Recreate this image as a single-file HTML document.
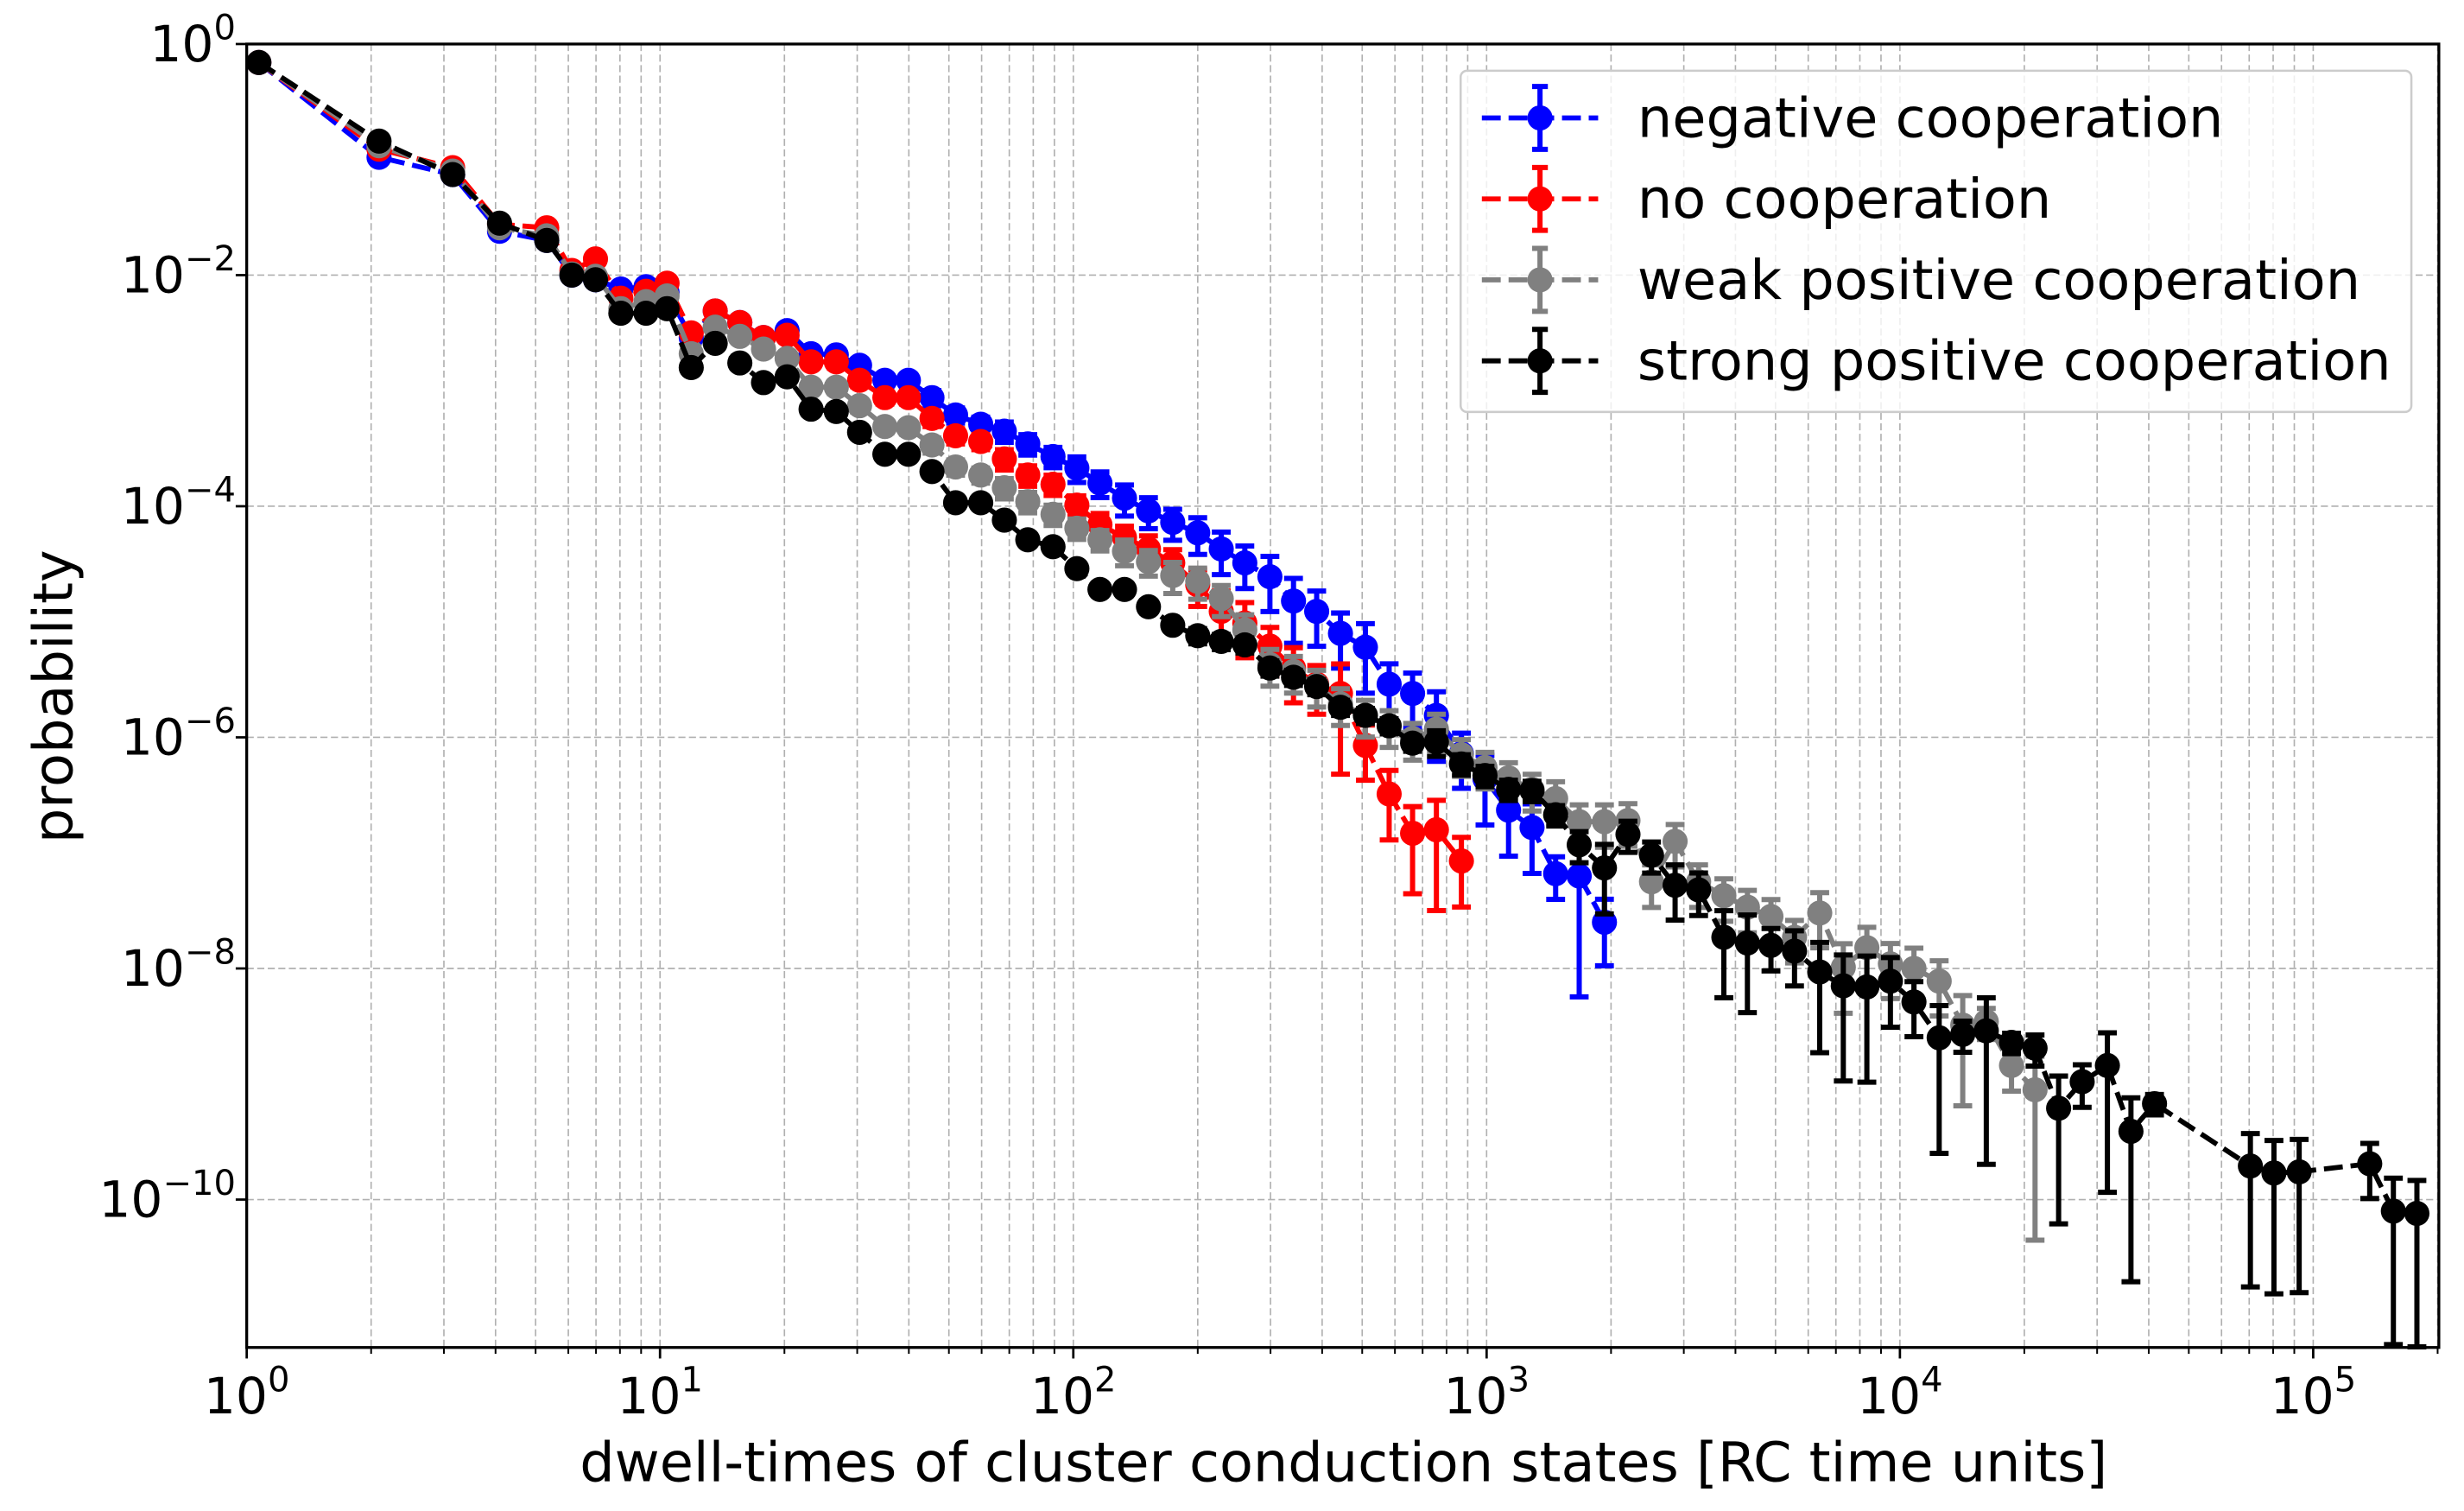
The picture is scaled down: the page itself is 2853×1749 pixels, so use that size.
<!DOCTYPE html>
<html><head><meta charset="utf-8"><style>
html,body{margin:0;padding:0;background:#fff;}
svg{display:block;font-family:"DejaVu Sans","Liberation Sans",sans-serif;}
</style></head><body>
<svg id="chart" width="2853" height="1749" viewBox="0 0 1568 961" preserveAspectRatio="none" xmlns="http://www.w3.org/2000/svg">
<g id="grid"></g>
<g id="series"></g>
<rect x="157" y="28" width="1395" height="829" fill="none" stroke="#000" stroke-width="1.8"/>
<g id="ticks"></g>
<text x="855" y="942" font-size="35" text-anchor="middle">dwell-times of cluster conduction states [RC time units]</text>
<text transform="translate(46,443) rotate(-90)" font-size="35" text-anchor="middle">probability</text>
<g id="legend"></g>
</svg>
<script>
// x bins (dwell times)
const xBins = [1.07,2.09,3.15,4.09,5.32,6.12,6.98,8.04,9.25,10.4,11.9,13.6,15.6,17.8,20.3,23.2,26.7,30.4,35.0,39.9,45.5,51.9,59.7,68.1,77.6,89.3,102,116,133,152,174,200,228,260,299,341,388,443,509,581,662,756,869,991,1130,1288,1469,1675,1928,2198,2506,2858,3258,3750,4276,4875,5559,6397,7295,8318,9484,10814,12445,14191,16181,18621,21232,24210,27606,31770,36226,41306,70469,80353,92470,137000,156300,178200];
// log10 probability per series
const blueLogP = [-0.16,-0.98,-1.13,-1.62,-1.70,-2.00,-2.04,-2.12,-2.10,-2.15,-2.54,-2.31,-2.41,-2.54,-2.48,-2.68,-2.69,-2.78,-2.91,-2.91,-3.06,-3.21,-3.29,-3.35,-3.46,-3.57,-3.67,-3.80,-3.93,-4.04,-4.14,-4.23,-4.37,-4.49,-4.61,-4.82,-4.91,-5.10,-5.22,-5.54,-5.62,-5.81,-6.14,-6.36,-6.63,-6.78,-7.18,-7.20,-7.60];
const redLogP = [-0.16,-0.91,-1.07,-1.56,-1.59,-1.96,-1.86,-2.20,-2.14,-2.07,-2.50,-2.31,-2.41,-2.54,-2.52,-2.75,-2.75,-2.91,-3.06,-3.06,-3.24,-3.39,-3.44,-3.59,-3.73,-3.81,-3.99,-4.16,-4.27,-4.37,-4.49,-4.68,-4.91,-5.01,-5.21,-5.40,-5.54,-5.62,-6.07,-6.49,-6.83,-6.80,-7.07];
const grayLogP = [-0.16,-0.88,-1.10,-1.59,-1.66,-1.99,-2.01,-2.29,-2.23,-2.18,-2.68,-2.45,-2.53,-2.64,-2.72,-2.97,-2.97,-3.13,-3.31,-3.32,-3.47,-3.66,-3.73,-3.84,-3.96,-4.07,-4.19,-4.29,-4.39,-4.48,-4.60,-4.65,-4.80,-5.07,-5.37,-5.43,-5.55,-5.71,-5.81,-5.90,-6.01,-5.93,-6.15,-6.26,-6.35,-6.45,-6.53,-6.73,-6.73,-6.72,-7.25,-6.90,-7.25,-7.37,-7.47,-7.55,-7.73,-7.52,-7.99,-7.82,-7.96,-8.00,-8.11,-8.49,-8.46,-8.84,-9.05];
const blackLogP = [-0.16,-0.84,-1.13,-1.55,-1.70,-2.00,-2.04,-2.33,-2.33,-2.29,-2.80,-2.59,-2.76,-2.93,-2.88,-3.16,-3.18,-3.36,-3.55,-3.55,-3.70,-3.97,-3.97,-4.12,-4.29,-4.35,-4.54,-4.72,-4.72,-4.87,-5.03,-5.12,-5.17,-5.20,-5.40,-5.48,-5.56,-5.74,-5.81,-5.90,-6.05,-6.04,-6.23,-6.33,-6.45,-6.46,-6.67,-6.93,-7.13,-6.84,-7.02,-7.28,-7.32,-7.73,-7.78,-7.80,-7.85,-8.03,-8.15,-8.16,-8.11,-8.29,-8.60,-8.57,-8.54,-8.64,-8.69,-9.21,-8.98,-8.84,-9.41,-9.17,-9.71,-9.77,-9.76,-9.69,-10.10,-10.12];
// relative errors (sigma / p)
const blueRelErr = [0.03,0.03,0.03,0.03,0.03,0.03,0.05,0.05,0.05,0.05,0.08,0.08,0.08,0.1,0.1,0.1,0.12,0.12,0.12,0.12,0.15,0.15,0.15,0.2,0.2,0.2,0.25,0.25,0.3,0.3,0.3,0.35,0.4,0.4,0.5,0.57,0.5,0.5,0.6,0.5,0.5,0.6,0.5,0.6,0.6,0.6,0.4,0.91,0.58];
const redRelErr = [0.03,0.03,0.03,0.03,0.03,0.03,0.05,0.05,0.05,0.05,0.08,0.08,0.08,0.1,0.1,0.1,0.12,0.12,0.12,0.12,0.15,0.15,0.15,0.2,0.2,0.2,0.2,0.25,0.25,0.3,0.3,0.35,0.5,0.5,0.45,0.5,0.45,0.8,0.5,0.6,0.7,0.8,0.6];
const grayRelErr = [0.03,0.03,0.03,0.03,0.03,0.03,0.05,0.05,0.05,0.05,0.08,0.08,0.08,0.1,0.1,0.1,0.12,0.12,0.12,0.12,0.15,0.15,0.15,0.2,0.2,0.2,0.2,0.2,0.25,0.25,0.3,0.3,0.3,0.35,0.35,0.35,0.35,0.35,0.35,0.35,0.35,0.35,0.35,0.35,0.35,0.35,0.4,0.4,0.4,0.4,0.4,0.4,0.4,0.4,0.4,0.4,0.4,0.5,0.6,0.5,0.5,0.5,0.5,0.8,0.3,0.4,0.95];
const blackRelErr = [0.03,0.03,0.03,0.03,0.03,0.03,0.05,0.05,0.05,0.05,0.05,0.05,0.05,0.05,0.05,0.05,0.05,0.05,0.05,0.05,0.05,0.1,0.1,0.1,0.1,0.1,0.1,0.1,0.1,0.1,0.1,0.15,0.15,0.15,0.15,0.15,0.15,0.15,0.15,0.15,0.15,0.25,0.2,0.2,0.2,0.2,0.2,0.3,0.6,0.3,0.3,0.5,0.4,0.7,0.75,0.4,0.5,0.8,0.85,0.85,0.6,0.5,0.9,0.3,0.93,0.2,0.3,0.9,0.4,0.92,0.95,0.2,0.91,0.91,0.91,0.5,0.93,0.93];
const seriesNames = ["negative cooperation","no cooperation","weak positive cooperation","strong positive cooperation"];
const seriesColors = ["#0000ff","#ff0000","#808080","#000000"];
const xTickExps = [0,1,2,3,4,5];
const yTickExps = [0,-2,-4,-6,-8,-10];

const NS = "http://www.w3.org/2000/svg";
const L = 157, R = 1552, T = 28, B = 857;
const xMinLog = 0, xMaxLog = 5.304, yMaxLog = 0, yMinLog = -11.28;
function xs(v){ return L + (Math.log10(v) - xMinLog) / (xMaxLog - xMinLog) * (R - L); }
function ysLog(lp){ return T + (yMaxLog - lp) / (yMaxLog - yMinLog) * (B - T); }
function mk(tag, attrs, parent){ const e = document.createElementNS(NS, tag); for (const k in attrs) e.setAttribute(k, attrs[k]); parent.appendChild(e); return e; }

const grid = document.getElementById('grid');
const ticks = document.getElementById('ticks');
for (let d = 0; d <= 5; d++) {
  for (let m = 1; m <= 9; m++) {
    const v = m * Math.pow(10, d);
    const x = xs(v);
    if (x < L - 0.5 || x > R + 0.5) continue;
    const gl = mk('line', {x1:x, x2:x, y1:T, y2:B, stroke:'#b0b0b0', 'stroke-width':0.9, 'stroke-dasharray':'4.5,2.2'}, grid);
    
    
    const tk = mk('line', {x1:x, x2:x, y1:B, y2:B + (m === 1 ? 7 : 4), stroke:'#000', 'stroke-width':m === 1 ? 1.5 : 1.1}, ticks);
    
    
  }
}
xTickExps.forEach(e => {
  const x = xs(Math.pow(10, e));
  const t = mk('text', {x:x, y:899, 'font-size':32, 'text-anchor':'middle'}, ticks);
  
  
  t.innerHTML = '10<tspan dy="-14" font-size="22">' + e + '</tspan>';
});
yTickExps.forEach(e => {
  const y = ysLog(e);
  if (e !== 0) {
    const gl = mk('line', {x1:L, x2:R, y1:y, y2:y, stroke:'#b0b0b0', 'stroke-width':0.9, 'stroke-dasharray':'4.5,2.2'}, grid);
    
    
  }
  const tk = mk('line', {x1:L - 7, x2:L, y1:y, y2:y, stroke:'#000', 'stroke-width':1.5}, ticks);
  
  
  const lab = e === 0 ? '0' : '\u2212' + (-e);
  const t = mk('text', {x:150, y:y + 11, 'font-size':32, 'text-anchor':'end'}, ticks);
  
  
  t.innerHTML = '10<tspan dy="-14" font-size="22">' + lab + '</tspan>';
});

const allLogP = [blueLogP, redLogP, grayLogP, blackLogP];
const allErr = [blueRelErr, redRelErr, grayRelErr, blackRelErr];
const sLayer = document.getElementById('series');
allLogP.forEach((lp, si) => {
  const col = seriesColors[si];
  const g = mk('g', {}, sLayer);
  
  
  const pts = lp.map((v, i) => [xs(xBins[i]), ysLog(v)]);
  lp.forEach((v, i) => {
    const r = allErr[si][i];
    const p = Math.pow(10, v);
    const hi = ysLog(Math.log10(p * (1 + r)));
    const lo = r < 1 ? ysLog(Math.log10(p * (1 - r))) : B;
    const x = pts[i][0];
    const eb = mk('path', {d:'M' + x + ' ' + hi + 'V' + lo + 'M' + (x - 6) + ' ' + hi + 'H' + (x + 6) + 'M' + (x - 6) + ' ' + lo + 'H' + (x + 6), stroke:col, 'stroke-width':3.3, fill:'none'}, g);
    
    
  });
  const line = mk('polyline', {points:pts.map(p => p.join(',')).join(' '), fill:'none', stroke:col, 'stroke-width':3.2, 'stroke-dasharray':'12,5'}, g);
  
  
  pts.forEach(p => {
    const c = mk('circle', {cx:p[0], cy:p[1], r:8, fill:col}, g);
    
    
  });
});

const lg = document.getElementById('legend');
const box = mk('rect', {x:929.5, y:45, width:605, height:217, rx:4, fill:'#fff', 'fill-opacity':0.8, stroke:'#cccccc', 'stroke-width':1.4}, lg);


seriesNames.forEach((n, i) => {
  const y = 75 + i * 51.5;
  const col = seriesColors[i];
  const g = mk('g', {}, lg);
  
  
  mk('line', {x1:943, x2:1017, y1:y, y2:y, stroke:col, 'stroke-width':3.2, 'stroke-dasharray':'12,5'}, g);
  mk('path', {d:'M980 ' + (y - 20) + 'V' + (y + 20) + 'M975 ' + (y - 20) + 'H985M975 ' + (y + 20) + 'H985', stroke:col, 'stroke-width':3.3}, g);
  mk('circle', {cx:980, cy:y, r:8, fill:col}, g);
  const t = mk('text', {x:1042, y:y + 12, 'font-size':35}, g);
  t.textContent = n;
});
</script>
</body></html>
